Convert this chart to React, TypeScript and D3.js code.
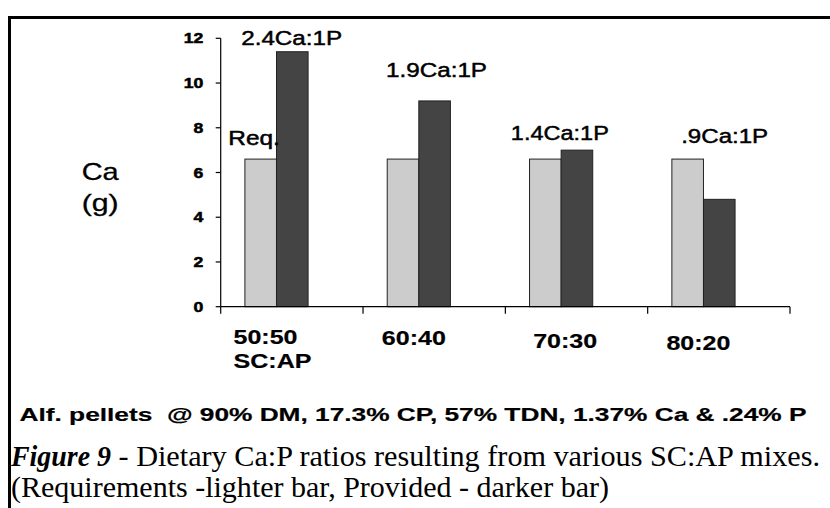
import React from "react";
import * as d3 from "d3";

// ---- data ----
const categories = ["50:50", "60:40", "70:30", "80:20"];
const categorySubLabels = ["SC:AP", "", "", ""];
const seriesKeys = ["Requirement", "Provided"];
const requirementCa = [6.6, 6.6, 6.6, 6.6];
const providedCa = [11.4, 9.2, 7.0, 4.8];
const ratioLabels = ["2.4Ca:1P", "1.9Ca:1P", "1.4Ca:1P", ".9Ca:1P"];
const yTickValues = [0, 2, 4, 6, 8, 10, 12];
const yTitle = ["Ca", "(g)"];
const reqLabel = "Req.";
const footnote = "Alf. pellets  @ 90% DM, 17.3% CP, 57% TDN, 1.37% Ca & .24% P";
const captionLead = "Figure 9";
const captionRest = " - Dietary Ca:P ratios resulting from various SC:AP mixes.";
const captionLine2 = "(Requirements -lighter bar, Provided - darker bar)";

// ---- layout ----
const W = 830;
const H = 508;
const PLOT = { left: 220.7, right: 790, top: 38.3, bottom: 306.7 };
const COLORS = { light: "#cccccc", dark: "#444444", stroke: "#222222" };
const SANS = "'Liberation Sans', Arial, sans-serif";
const SERIF = "'Liberation Serif', 'Times New Roman', serif";

// ratio label placement (start offset from band start, baseline px, width px)
const ratioLayout = [
  { dx: 20.5, y: 45, w: 101 },
  { dx: 23, y: 77, w: 101 },
  { dx: 5.5, y: 139.5, w: 98 },
  { dx: 33.5, y: 143, w: 87 },
];
const catLayout = [
  { dc: -11, y: 343.5 },
  { dc: -5, y: 345 },
  { dc: 4, y: 347.5 },
  { dc: -5, y: 350 },
];

function SText(props: any) {
  const { x, y, w, size, weight, family, style, children, fill, heavy } = props;
  return (
    <text
      x={x}
      y={y}
      textLength={w}
      lengthAdjust="spacingAndGlyphs"
      fontSize={size}
      fontWeight={weight || "normal"}
      fontFamily={family || SANS}
      fontStyle={style || "normal"}
      fill={fill || "#000"}
      stroke={heavy ? "#000" : "none"}
      strokeWidth={heavy || 0}
      style={{ whiteSpace: "pre" }}
    >
      {children}
    </text>
  );
}

export default function App() {
  const x = d3
    .scaleBand<string>()
    .domain(categories)
    .range([PLOT.left, PLOT.right])
    .padding(0);
  const bw = x.bandwidth();
  const xs = d3
    .scaleBand<string>()
    .domain(seriesKeys)
    .range([0.17 * bw, 0.614 * bw])
    .padding(0);
  const y = d3.scaleLinear().domain([0, 12]).range([PLOT.bottom, PLOT.top]);

  const rows = categories.map((c, i) => ({
    cat: c,
    values: [requirementCa[i], providedCa[i]],
  }));

  const tickXs = [...categories.map((c) => x(c) as number), PLOT.right];

  return (
    <svg
      width={W}
      height={H}
      viewBox={`0 0 ${W} ${H}`}
      style={{ position: "absolute", left: 0, top: 0, background: "#fff" }}
    >
      <rect x={0} y={0} width={W} height={H} fill="#fff" />
      {/* frame */}
      <line x1={8} x2={W} y1={17.5} y2={17.5} stroke="#000" strokeWidth={3} />
      <line x1={9.5} x2={9.5} y1={16} y2={H} stroke="#000" strokeWidth={3} />

      {/* bars */}
      {rows.map((r) =>
        r.values.map((v, j) => (
          <rect
            key={r.cat + j}
            x={(x(r.cat) as number) + (xs(seriesKeys[j]) as number)}
            y={y(v)}
            width={xs.bandwidth()}
            height={y(0) - y(v)}
            fill={j === 0 ? COLORS.light : COLORS.dark}
            stroke={COLORS.stroke}
            strokeWidth={1}
          />
        ))
      )}

      {/* y axis */}
      <line x1={PLOT.left} x2={PLOT.left} y1={y(12)} y2={y(0)} stroke="#000" strokeWidth={1.2} />
      {yTickValues.map((t) => {
        const lbl = String(t);
        const w = lbl.length * 9.8;
        return (
          <g key={t}>
            <line x1={PLOT.left - 5} x2={PLOT.left} y1={y(t)} y2={y(t)} stroke="#000" strokeWidth={1.2} />
            <SText x={203.3 - w} y={y(t) + 5} w={w} size={14} weight="bold" heavy={0.5}>
              {lbl}
            </SText>
          </g>
        );
      })}

      {/* x axis */}
      <line x1={PLOT.left} x2={PLOT.right} y1={y(0)} y2={y(0)} stroke="#000" strokeWidth={1.2} />
      {tickXs.map((tx, i) => (
        <line key={i} x1={tx} x2={tx} y1={y(0)} y2={y(0) + 7} stroke="#000" strokeWidth={1.2} />
      ))}
      {categories.map((c, i) => {
        const gc = (x(c) as number) + (xs("Requirement") as number) + xs.bandwidth();
        const cx = gc + catLayout[i].dc;
        const w = 64;
        return (
          <g key={c}>
            <SText x={cx - w / 2} y={catLayout[i].y} w={w} size={21} weight="bold" heavy={0.2}>
              {c}
            </SText>
            {categorySubLabels[i] ? (
              <SText x={cx - w / 2} y={catLayout[i].y + 24} w={78} size={21} weight="bold" heavy={0.2}>
                {categorySubLabels[i]}
              </SText>
            ) : null}
          </g>
        );
      })}

      {/* ratio labels */}
      {ratioLabels.map((l, i) => (
        <SText
          key={l}
          x={(x(categories[i]) as number) + ratioLayout[i].dx}
          y={ratioLayout[i].y}
          w={ratioLayout[i].w}
          size={20}
          heavy={0.45}
        >
          {l}
        </SText>
      ))}
      <SText x={228.3} y={144.5} w={51.5} size={20.5} heavy={0.5}>
        {reqLabel}
      </SText>

      {/* y title */}
      <SText x={81.7} y={180} w={37} size={24} heavy={0.3}>
        {yTitle[0]}
      </SText>
      <SText x={81.7} y={211} w={37} size={24} heavy={0.3}>
        {yTitle[1]}
      </SText>

      {/* footnote & caption */}
      <SText x={19.5} y={421} w={787} size={18.5} weight="bold" heavy={0.2}>
        {footnote}
      </SText>
      <SText x={11} y={466} w={100} size={30} weight="bold" style="italic" family={SERIF}>
        {captionLead}
      </SText>
      <SText x={111} y={466} w={709} size={30} family={SERIF}>
        {captionRest}
      </SText>
      <SText x={11} y={497} w={598} size={30} family={SERIF}>
        {captionLine2}
      </SText>
    </svg>
  );
}
